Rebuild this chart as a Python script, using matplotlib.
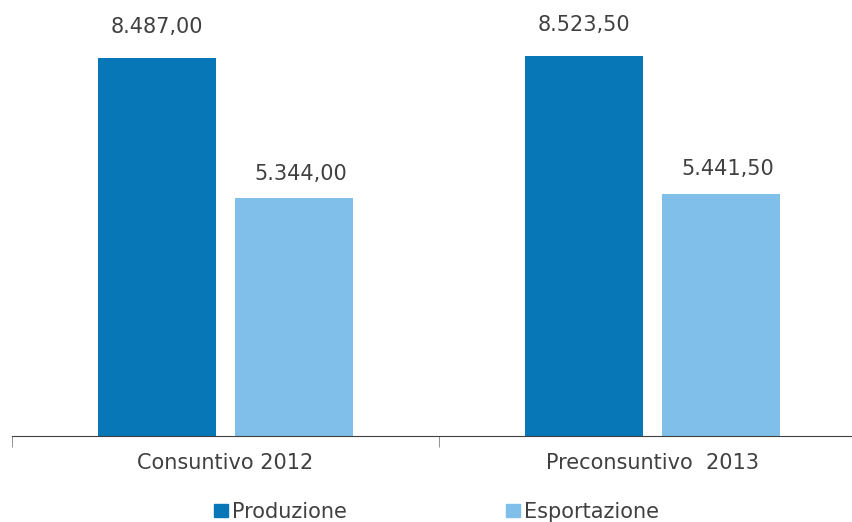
import numpy as np
import matplotlib
matplotlib.use('Agg')
import matplotlib.pyplot as plt
from matplotlib.patches import Patch

# Dati
categorie = ['Consuntivo 2012', 'Preconsuntivo  2013']
produzione = [8487.00, 8523.50]
esportazione = [5344.00, 5441.50]
serie = ['Produzione', 'Esportazione']
colori = ['#0877b8', '#80bfe9']


def fmt_it(v):
    # formato italiano: 8.487,00
    s = '{:,.2f}'.format(v)
    return s.replace(',', 'X').replace('.', ',').replace('X', '.')


W, H = 852, 522
fig = plt.figure(figsize=(W / 100, H / 100), dpi=100)
ax = fig.add_axes([12 / W, (H - 436) / H, 840 / W, 436 / H])

x = np.arange(len(categorie))
bw = 0.276
off = 0.161
b1 = ax.bar(x - off, produzione, bw, color=colori[0], label=serie[0])
b2 = ax.bar(x + off, esportazione, bw, color=colori[1], label=serie[1])

for bars, dx, dy in ((b1, 0, 22.5), (b2, 5, 17.5)):
    for b in bars:
        ax.annotate(fmt_it(b.get_height()),
                    (b.get_x() + b.get_width() / 2, b.get_height()),
                    xytext=(dx, dy), textcoords='offset points',
                    ha='center', va='center', fontsize=15, color='#404040')

ax.set_yticks([])
for s in ('top', 'right', 'left'):
    ax.spines[s].set_visible(False)
ax.spines['bottom'].set_color('#404040')

ax.set_xticks(x)
ax.set_xticklabels(categorie, fontsize=15, color='#404040')
ax.tick_params(axis='x', which='major', length=0, pad=12)
ax.set_xticks([-0.5, 0.5], minor=True)
ax.tick_params(axis='x', which='minor', length=8, color='#808080')

ax.set_ylim(0, 9790)
ax.set_xlim(-0.5, -0.5 + 840 / 427)

handles = [Patch(color=c) for c in colori]
fig.legend(handles, serie, loc='center left', bbox_to_anchor=(214 / W, 1 - 512 / H),
           ncol=2, frameon=False, fontsize=15, handlelength=0.68,
           handleheight=0.6, handletextpad=0.2, columnspacing=7.6,
           borderpad=0, borderaxespad=0, labelcolor='#404040')

fig.savefig('out.png', dpi=100)
